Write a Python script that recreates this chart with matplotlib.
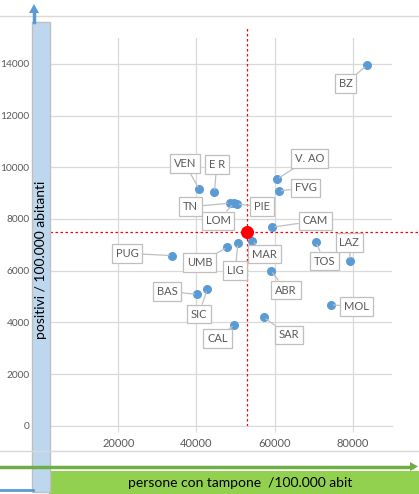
import matplotlib.pyplot as plt
from matplotlib.patches import Rectangle, FancyArrow
from matplotlib.lines import Line2D

plt.rcParams['font.family'] = ['Lato', 'DejaVu Sans']

# regioni: tamponi /100.000 ab (x), positivi /100.000 ab (y)
regioni = ["BZ", "VEN", "E R", "V. AO", "FVG", "TN", "LOM", "PIE", "CAM", "MAR",
           "LIG", "UMB", "PUG", "TOS", "LAZ", "ABR", "BAS", "SIC", "MOL", "SAR", "CAL"]
tamponi = [83600, 40700, 44600, 60600, 61000, 48600, 49500, 50300, 59400, 54300,
           50600, 47900, 33700, 70500, 79300, 59000, 40200, 42800, 74300, 57200, 49700]
positivi = [13940, 9150, 9040, 9540, 9080, 8610, 8600, 8580, 7680, 7150,
            7060, 6900, 6580, 7110, 6370, 6000, 5080, 5280, 4680, 4190, 3910]
# posizione delle etichette
lab_x = [78100, 37000, 45200, 68900, 67900, 38500, 45500, 56700, 70400, 57400,
         49900, 40800, 22300, 72700, 79100, 62900, 32500, 40600, 80900, 63600, 45400]
lab_y = [13250, 10150, 10110, 10340, 9200, 8470, 7920, 8470, 7920, 6640,
         5990, 6310, 6670, 6370, 7100, 5250, 5200, 4320, 4600, 3510, 3380]

media_x = 53000
media_y = 7500

W, H = 419, 494


def fx(x):
    return x / W


def fy(y):
    return 1 - y / H


fig = plt.figure(figsize=(W / 100, H / 100), dpi=100)
ax = fig.add_axes([fx(40), fy(425.7), 352 / W, 387.7 / H])

ax.set_xlim(0, 90000)
ax.set_ylim(0, 15000)
ax.set_xticks([20000, 40000, 60000, 80000])
ax.set_yticks(range(0, 15000, 2000))
ax.grid(True, color='#d9d9d9', lw=0.9)
ax.set_axisbelow(True)
for s in ['top', 'right', 'left']:
    ax.spines[s].set_visible(False)
ax.spines['bottom'].set_color('#d9d9d9')
ax.tick_params(axis='x', colors='#d9d9d9', length=4, pad=5, labelsize=8, labelcolor='#595959')
ax.tick_params(axis='y', length=0, pad=7.5, labelsize=7.3, labelcolor='#595959')

ax.scatter(tamponi, positivi, s=30, color='#5b9bd5', zorder=3)

for nome, x, y, lx, ly in zip(regioni, tamponi, positivi, lab_x, lab_y):
    ax.annotate(nome, xy=(x, y), xytext=(lx, ly), ha='center', va='center',
                fontsize=8, color='#595959', zorder=4,
                bbox=dict(boxstyle='square,pad=0.35', fc='white', ec='#bfbfbf', lw=0.9),
                arrowprops=dict(arrowstyle='-', color='#bfbfbf', lw=0.9,
                                shrinkA=0, shrinkB=2))

# linee medie
ax.axvline(media_x, ymin=0, ymax=(425.7 - 28) / 387.7, color='red', ls=(0, (2, 2)),
           lw=0.9, clip_on=False, zorder=2)
ax.axhline(media_y, xmin=0, xmax=(419 - 40) / 352, color='red', ls=(0, (2, 2)),
           lw=0.9, clip_on=False, zorder=2)
ax.scatter([media_x], [media_y], s=70, color='red', zorder=5, clip_on=False)

# cornice grigia
fig.add_artist(Line2D([0, 1], [fy(16), fy(16)], color='#d9d9d9', lw=1))
fig.add_artist(Line2D([0, 1], [fy(450.7), fy(450.7)], color='#d9d9d9', lw=1))

# freccia verde e riquadro asse x
fig.add_artist(Line2D([0, fx(412)], [fy(466.5), fy(466.5)], color='#70ad47', lw=2.5))
fig.add_artist(FancyArrow(fx(410), fy(466.5), fx(8), 0, width=0.001,
                          head_width=9 / H, head_length=fx(8),
                          length_includes_head=True, color='#70ad47', lw=0))
fig.add_artist(Rectangle((fx(49), 0), fx(419 - 49), (494 - 470.5) / H,
                         fc='#92d050', ec='none'))
fig.text(fx(240), fy(482.5), "persone con tampone  /100.000 abit", ha='center',
         va='center', fontsize=10, color='black')

# freccia blu e riquadro asse y
fig.add_artist(Line2D([0, fx(33)], [fy(489.5), fy(489.5)], color='#5b9bd5', lw=2))
fig.add_artist(Line2D([fx(34), fx(34)], [fy(22), fy(12)], color='#5b9bd5', lw=2.5))
fig.add_artist(FancyArrow(fx(34), fy(13), 0, 9 / H, width=0.001,
                          head_width=fx(10), head_length=9 / H,
                          length_includes_head=True, color='#5b9bd5', lw=0))
fig.add_artist(Rectangle((fx(32), fy(492)), fx(18), (492 - 22) / H,
                         fc='#bdd7ee', ec='#bfbfbf', lw=1))
fig.text(fx(41), fy(260), "positivi / 100.000 abitanti", rotation=90, ha='center',
         va='center', fontsize=10, color='black')

fig.savefig('out.png', dpi=100)
